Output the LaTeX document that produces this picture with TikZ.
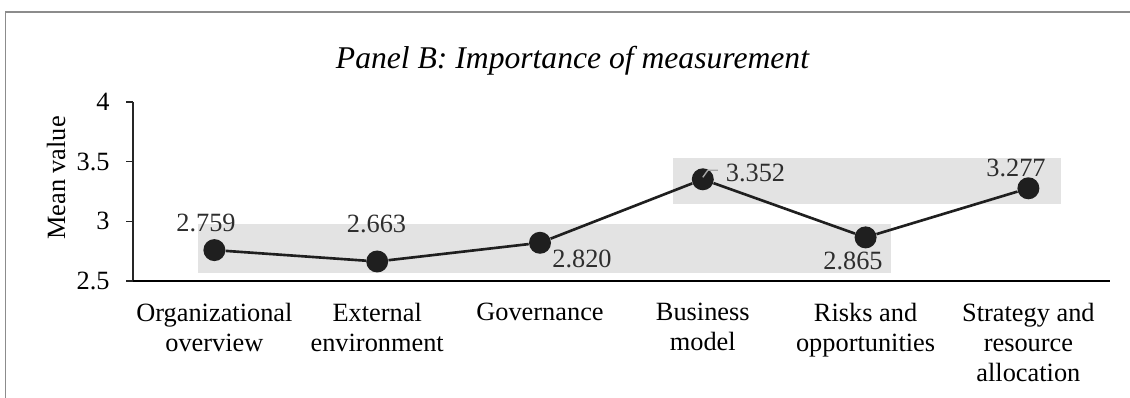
\documentclass[tikz,border=0pt]{standalone}
\usepackage{fontspec}
\setmainfont{Liberation Serif}
\usetikzlibrary{positioning}

\definecolor{panelgrey}{HTML}{8C8C8C}
\definecolor{labelbg}{HTML}{E3E3E3}
\definecolor{markfill}{HTML}{1F1F1F}
\definecolor{numtext}{HTML}{2E2E2E}

\begin{document}
\begin{tikzpicture}[x=0.02cm, y=0.02cm,
  dot/.style={circle, fill=markfill, minimum size=0.44cm, inner sep=0},
  val/.style={anchor=base, text=numtext, inner sep=0, font=\fontsize{15}{18}\selectfont},
  cat/.style={anchor=north, align=center, inner sep=0, font=\fontsize{15}{17}\selectfont},
  ticklab/.style={anchor=east, inner sep=0, font=\fontsize{15}{18}\selectfont}]

\useasboundingbox (0,0) rectangle (1130,398);
\draw[panelgrey, line width=1.1pt] (5.5,0) -- (5.5,386) -- (1130,386);

\fill[labelbg] (198,125) rectangle (891,174);
\fill[labelbg] (673,194) rectangle (1061,240);

\node[anchor=base, font=\fontsize{18}{22}\selectfont\itshape] (title) at (572.5,329) {Panel B: Importance of measurement};

\draw[line width=0.8pt, black!85] (133,296) -- (133,117);
\draw[line width=0.8pt, black!85] (126,296) -- (133,296);
\draw[line width=0.8pt, black!85] (126,236.3) -- (133,236.3);
\draw[line width=0.8pt, black!85] (126,176.7) -- (133,176.7);
\draw[line width=0.8pt, black!85] (126,117) -- (133,117);
\draw[line width=1.6pt] (133,117) -- (1110,117);

\node[ticklab] (y4) at (110,296) {4};
\node[ticklab] (y35) at (110,236.3) {3.5};
\node[ticklab] (y3) at (110,176.7) {3};
\node[ticklab] (y25) at (110,117) {2.5};
\node[rotate=90, font=\fontsize{15}{18}\selectfont] (ylab) at (56,220) {Mean value};

\node[dot] (org) at (214.4,147.9) {};
\node[dot] (ext) at (377.2,136.5) {};
\node[dot] (gov) at (540,155.2) {};
\node[dot] (bus) at (702.8,218.7) {};
\node[dot] (risk) at (865.6,160.6) {};
\node[dot] (strat) at (1028.4,209.7) {};
\path[draw, line width=1.5pt, markfill]
    (org) -- (ext) -- (gov) -- (bus) -- (risk) -- (strat);
\draw[gray!70, line width=0.8pt] (bus.center) ++(0,2) -- ++(5,7) -- ++(10,0);

\node[val] (vorg) at (206,166) {2.759};
\node[val] (vext) at (376.5,165) {2.663};
\node[val] (vgov) at (582,130) {2.820};
\node[val] (vbus) at (755.5,216.3) {3.352};
\node[val] (vrisk) at (853,128) {2.865};
\node[val] (vstrat) at (1016,221.3) {3.277};

\node[cat] (corg) at (214.4,95) {Organizational\\overview};
\node[cat] (cext) at (377.2,95) {External\\environment};
\node[cat] (cgov) at (540,95) {Governance};
\node[cat] (cbus) at (702.8,95) {Business\\model};
\node[cat] (crisk) at (865.6,95) {Risks and\\opportunities};
\node[cat] (cstrat) at (1028.4,95) {Strategy and\\resource\\allocation};

\end{tikzpicture}
\end{document}
